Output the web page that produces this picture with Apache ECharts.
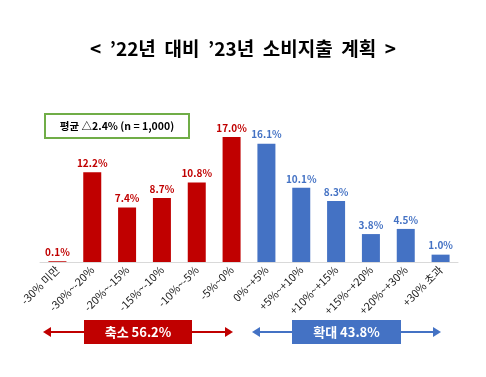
<!DOCTYPE html>
<html>
<head>
<meta charset="utf-8">
<script src="https://cdn.jsdelivr.net/npm/echarts@6/dist/echarts.min.js"></script>
<style>
html, body {margin:0; padding:0; background:#fff;}
#main {width:486px; height:377px;}
</style>
</head>
<body>
<div id="main"></div>
<script>
// categories and values
var categories = ['-30% 미만', '-30%~-20%', '-20%~-15%', '-15%~-10%', '-10%~-5%', '-5%~0%',
	'0%~+5%', '+5%~+10%', '+10%~+15%', '+15%~+20%', '+20%~+30%', '+30% 초과'];
var shrinkValues = [0.1, 12.2, 7.4, 8.7, 10.8, 17.0, null, null, null, null, null, null];
var growValues = [null, null, null, null, null, null, 16.1, 10.1, 8.3, 3.8, 4.5, 1.0];
var titleText = '<  ’22년  대비  ’23년  소비지출  계획  >';
var avgText = '평균 △2.4% (n = 1,000)';
var shrinkText = '축소 56.2%';
var growText = '확대 43.8%';

var RED = '#C00000';
var BLUE = '#4472C4';
var FONT = '"Noto Sans CJK KR", "Noto Sans", sans-serif';

var chart = echarts.init(document.getElementById('main'));

function barSeries(name, data, color){
	return {
		name: name,
		type: 'bar',
		data: data,
		barWidth: 18,
		barGap: '-100%',
		itemStyle: {color: color},
		label: {
			show: true,
			position: 'top',
			distance: 4,
			color: color,
			fontFamily: FONT,
			fontWeight: 'bold',
			fontSize: 10,
			formatter: function(p){ return p.value.toFixed(1) + '%'; }
		}
	};
}

// arrow with a box in the middle, drawn as decoration
function arrowGroup(x1, x2, y, bx1, bx2, color, text){
	return {
		type: 'group',
		children: [
			{type: 'line', shape: {x1: x1 + 6, y1: y, x2: x2 - 6, y2: y}, style: {stroke: color, lineWidth: 2}},
			{type: 'polygon', shape: {points: [[x1, y], [x1 + 8, y - 5], [x1 + 8, y + 5]]}, style: {fill: color}},
			{type: 'polygon', shape: {points: [[x2, y], [x2 - 8, y - 5], [x2 - 8, y + 5]]}, style: {fill: color}},
			{type: 'rect', shape: {x: bx1, y: y - 12, width: bx2 - bx1, height: 24}, style: {fill: color}},
			{type: 'text', x: (bx1 + bx2) / 2, y: y, style: {text: text, fill: '#fff', font: 'bold 13px ' + FONT, align: 'center', verticalAlign: 'middle'}}
		]
	};
}

var option = {
	animation: false,
	title: {
		text: titleText,
		left: 'center',
		top: 34,
		textStyle: {fontFamily: FONT, fontWeight: 'bold', fontSize: 19, color: '#000'}
	},
	grid: {left: 40, right: 28, top: 115, bottom: 115},
	xAxis: {
		type: 'category',
		data: categories,
		axisTick: {show: false},
		axisLine: {lineStyle: {color: '#D9D9D9'}},
		axisLabel: {
			interval: 0,
			rotate: 45,
			fontFamily: FONT,
			fontSize: 11,
			color: '#222',
			margin: 6
		}
	},
	yAxis: {
		type: 'value',
		min: 0,
		max: 20,
		show: false
	},
	series: [
		barSeries('축소', shrinkValues, RED),
		barSeries('확대', growValues, BLUE)
	],
	graphic: [
		{
			type: 'group',
			children: [
				{type: 'rect', shape: {x: 45, y: 114, width: 144, height: 24}, style: {fill: '#fff', stroke: '#70AD47', lineWidth: 2}},
				{type: 'text', x: 117, y: 126, style: {text: avgText, fill: '#000', font: 'bold 10.5px ' + FONT, align: 'center', verticalAlign: 'middle'}}
			]
		},
		arrowGroup(43, 233, 332, 84, 192, RED, shrinkText),
		arrowGroup(252, 441, 332, 292, 401, BLUE, growText)
	]
};
chart.setOption(option);
</script>
</body>
</html>
